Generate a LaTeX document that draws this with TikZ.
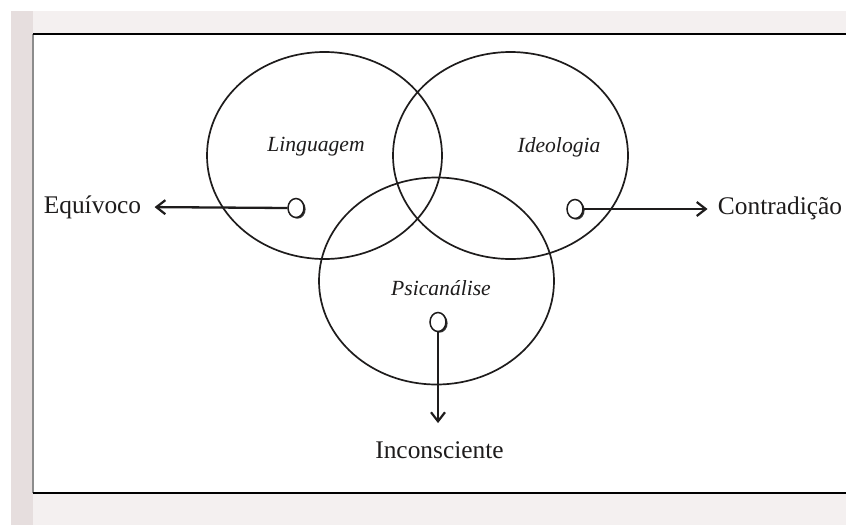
\documentclass[tikz,border=0pt]{standalone}
\usepackage{fontspec}
\setmainfont{Liberation Serif}
\usetikzlibrary{shapes.geometric,arrows.meta}
\definecolor{pagegray}{RGB}{244,240,240}
\definecolor{stripgray}{RGB}{230,222,222}
\definecolor{inkgray}{RGB}{30,28,28}
\begin{document}
\begin{tikzpicture}[x=0.5pt,y=-0.5pt,
  bigset/.style={draw=inkgray, ellipse, line width=0.85pt, minimum width=117.5pt, minimum height=103.5pt, inner sep=0pt},
  dotc/.style={draw=inkgray, ellipse, fill=white, line width=0.75pt, minimum width=8pt, minimum height=9.5pt, inner sep=0pt,
    preaction={fill=black!80, transform canvas={xshift=0.8pt,yshift=-0.6pt}}},
  setlabel/.style={font=\fontsize{10.8}{13}\selectfont\itshape, inner sep=0pt, text=inkgray},
  outlabel/.style={font=\fontsize{12.7}{15}\selectfont, inner sep=0pt, text=inkgray},
  conn/.style={draw=inkgray, line width=1.15pt, -{Straight Barb[length=4.5pt,width=7pt,line width=1.1pt]}}]
\useasboundingbox (0,0) rectangle (846,525);
% page background
\fill[white] (0,0) rectangle (846,525);
\fill[pagegray] (11,11) rectangle (846,525);
\fill[stripgray] (11,11) rectangle (33,525);
\fill[white] (33,34) rectangle (846,493);
\draw[black!45, line width=1.2pt] (33,34) -- (33,493);
\draw[black, line width=1pt] (33,34) -- (846,34);
\draw[black, line width=1pt] (33,493) -- (846,493);
% sets
\node[bigset] (ling) at (324.5,155.5) {};
\node[bigset] (ideo) at (510.5,155.5) {};
\node[bigset] (psic) at (436.5,281) {};
\node[setlabel] (linglab) at (316,147) {Linguagem};
\node[setlabel] (ideolab) at (559,147) {Ideologia};
\node[setlabel] (psiclab) at (441,288) {Psicanálise};
% outer labels
\node[outlabel] (equi) at (92.5,207) {Equívoco};
\node[outlabel] (contr) at (780,208) {Contradição};
\node[outlabel] (incon) at (439.5,450) {Inconsciente};
% dots
\node[dotc] (lc) at (296,208) {};
\node[dotc] (ic) at (575,209) {};
\node[dotc] (pc) at (438,322) {};
% connectors
\draw[conn, shorten >=6.5pt] (lc.west) -- (equi.east);
\draw[conn, shorten >=5pt] (ic.east) -- (ic.east -| contr.west);
\draw[conn, shorten >=9pt] (pc.south) -- (pc.south |- incon.north);
\end{tikzpicture}
\end{document}
